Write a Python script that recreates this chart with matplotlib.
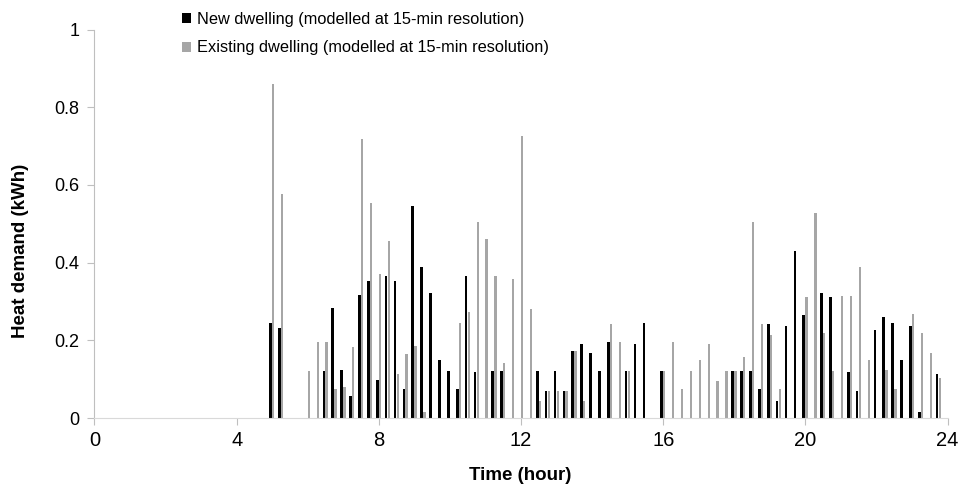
import numpy as np
import matplotlib.pyplot as plt

plt.rcParams['font.family'] = ['Liberation Sans', 'DejaVu Sans']

# 15-min slots from 00:00 to 23:45 (hours)
slots = np.arange(96) * 0.25

# Heat demand (kWh) per 15-min slot; zero before 05:00
new_dwelling = [0.0] * 20 + [
    0.245, 0.233, 0.0, 0.0,      # 5
    0.0, 0.0, 0.122, 0.284,      # 6
    0.125, 0.057, 0.317, 0.353,  # 7
    0.099, 0.367, 0.353, 0.076,  # 8
    0.547, 0.390, 0.321, 0.149,  # 9
    0.122, 0.076, 0.367, 0.118,  # 10
    0.0, 0.122, 0.122, 0.0,      # 11
    0.0, 0.0, 0.122, 0.071,      # 12
    0.122, 0.071, 0.173, 0.190,  # 13
    0.168, 0.122, 0.197, 0.0,    # 14
    0.122, 0.190, 0.244, 0.0,    # 15
    0.122, 0.0, 0.0, 0.0,        # 16
    0.0, 0.0, 0.0, 0.0,          # 17
    0.122, 0.122, 0.122, 0.076,  # 18
    0.243, 0.044, 0.238, 0.430,  # 19
    0.265, 0.0, 0.321, 0.311,    # 20
    0.0, 0.118, 0.071, 0.0,      # 21
    0.228, 0.261, 0.244, 0.149,  # 22
    0.238, 0.016, 0.0, 0.113,    # 23
]
existing_dwelling = [0.0] * 20 + [
    0.860, 0.577, 0.0, 0.0,      # 5
    0.122, 0.195, 0.195, 0.075,  # 6
    0.079, 0.182, 0.719, 0.553,  # 7
    0.372, 0.455, 0.113, 0.165,  # 8
    0.186, 0.015, 0.0, 0.0,      # 9
    0.0, 0.244, 0.274, 0.505,    # 10
    0.460, 0.367, 0.141, 0.358,  # 11
    0.726, 0.280, 0.044, 0.071,  # 12
    0.071, 0.071, 0.173, 0.044,  # 13
    0.0, 0.0, 0.241, 0.195,      # 14
    0.122, 0.0, 0.0, 0.0,        # 15
    0.122, 0.195, 0.076, 0.122,  # 16
    0.149, 0.190, 0.095, 0.122,  # 17
    0.122, 0.158, 0.505, 0.243,  # 18
    0.214, 0.075, 0.0, 0.0,      # 19
    0.311, 0.529, 0.218, 0.122,  # 20
    0.313, 0.314, 0.390, 0.149,  # 21
    0.0, 0.125, 0.076, 0.0,      # 22
    0.269, 0.220, 0.168, 0.102,  # 23
]

x_ticks = [0, 4, 8, 12, 16, 20, 24]
y_ticks = [0, 0.2, 0.4, 0.6, 0.8, 1]
y_tick_labels = ['0', '0.2', '0.4', '0.6', '0.8', '1']

fig = plt.figure(figsize=(9.64, 4.96), dpi=100)
ax = fig.add_axes([0.098, 0.157, 0.885, 0.7835])

ax.bar(slots - 0.045, new_dwelling, width=0.075, color='black',
       label='New dwelling (modelled at 15-min resolution)')
ax.bar(slots + 0.03, existing_dwelling, width=0.065, color='#a6a6a6',
       label='Existing dwelling (modelled at 15-min resolution)')

ax.set_xlim(0, 24)
ax.set_ylim(0, 1)
ax.set_xticks(x_ticks)
ax.set_yticks(y_ticks)
ax.set_yticklabels(y_tick_labels)

for s in ['top', 'right']:
    ax.spines[s].set_visible(False)
ax.spines['left'].set_color('#bfbfbf')
ax.spines['bottom'].set_color('#d9d9d9')
ax.tick_params(axis='y', length=5, color='#bfbfbf', labelsize=13, pad=6)
ax.tick_params(axis='x', length=5, color='#bfbfbf', labelsize=14.5, pad=4)

ax.set_xlabel('Time (hour)', fontsize=13.5, fontweight='bold')
ax.set_ylabel('Heat demand (kWh)', fontsize=13.5, fontweight='bold')
ax.xaxis.set_label_coords(0.499, -0.125)
ax.yaxis.set_label_coords(-0.077, 0.43)

fig.legend(loc='upper left', bbox_to_anchor=(0.182, 0.99), frameon=False,
           fontsize=11.8, handlelength=0.55, handleheight=0.55,
           handletextpad=0.35, labelspacing=0.85, borderaxespad=0)

fig.savefig('out.png', dpi=100)
